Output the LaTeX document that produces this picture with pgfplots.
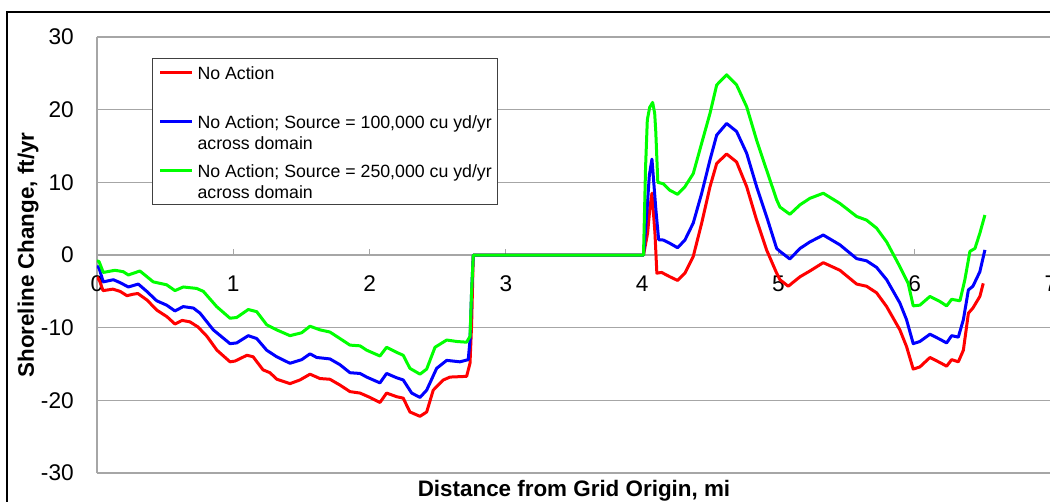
\documentclass[border=0pt]{standalone}
\usepackage{fontspec}
\setmainfont{Liberation Sans}
\usepackage{pgfplots}
\pgfplotsset{compat=1.18}
\definecolor{xred}{RGB}{255,0,0}
\definecolor{xblue}{RGB}{0,0,255}
\definecolor{xgreen}{RGB}{0,255,0}
\definecolor{gridgray}{RGB}{166,166,166}
\newcommand\lentry[2]{\vtop{\baselineskip=15.75pt\lineskiplimit=0pt\hbox{\rule{0pt}{11.25pt}#1}\hbox{#2}}}
\begin{document}
\begin{tikzpicture}
\useasboundingbox (0pt,0pt) rectangle (787.5pt,375.75pt);
\clip (0pt,0pt) rectangle (787.5pt,375.75pt);
\fill[white] (0pt,0pt) rectangle (787.5pt,375.75pt);
\draw[black, line width=0.8pt] (5.25pt,-10pt) rectangle (800pt,366.75pt);
\begin{axis}[
  at={(72.75pt,21pt)}, anchor=south west,
  scale only axis, width=715.5pt, height=327pt,
  xmin=0, xmax=7, ymin=-30, ymax=30,
  xtick={0,1,...,7}, ytick={-30,-20,...,30},
  axis x line=middle, axis y line=left,
  axis line style={-, draw=gridgray, line width=0.8pt},
  hide obscured x ticks=false, hide obscured y ticks=false,
  ymajorgrids, grid style={draw=gridgray, line width=0.8pt},
  ytick style={draw=none},
  xtick style={draw=gridgray, line width=0.8pt},
  xtick align=inside, major tick length=4.5pt,
  /pgf/number format/assume math mode=true,
  tick label style={font=\fontsize{17}{20}\selectfont},
  yticklabel style={anchor=east, inner sep=0pt, xshift=-15pt},
  xticklabel style={anchor=base, inner sep=0pt, yshift=-27.5pt},
  xlabel={Distance from Grid Origin, mi},
  ylabel={Shoreline Change, ft/yr},
  every axis x label/.style={at={(axis description cs:0.5,-0.0544)}, anchor=base,
    font=\bfseries\fontsize{16.8}{20}\selectfont},
  every axis y label/.style={at={(axis description cs:-0.0723,0.5)}, rotate=90, anchor=center,
    font=\bfseries\fontsize{16.8}{20}\selectfont},
  legend style={at={(axis description cs:0.0577,0.952)}, anchor=north west,
    draw=black!75, fill=white, line width=0.75pt,
    font=\fontsize{13.3}{15.75}\selectfont,
    inner xsep=4.5pt, inner ysep=4.5pt, row sep=9.75pt, column sep=3pt,
    nodes={inner sep=0pt, text depth=, text height=},
    cells={anchor=base west, inner sep=0pt}},
  legend image code/.code={\draw[#1] (0pt,5.25pt) -- (24pt,5.25pt);},
]
\addplot[color=xred, line width=2.25pt, line join=round, mark=none] coordinates {
(0,-3.0)(0.02,-3.6)(0.044,-4.9)(0.117,-4.7)(0.169,-5.0)(0.22,-5.6)(0.264,-5.4)(0.30,-5.3)(0.367,-6.2)(0.44,-7.6)(0.514,-8.5)(0.572,-9.5)(0.624,-9.0)(0.682,-9.2)(0.741,-9.9)(0.807,-11.2)(0.88,-13.1)(0.976,-14.7)(1.012,-14.6)(1.10,-13.8)(1.145,-14.0)(1.218,-15.8)(1.269,-16.2)(1.32,-17.1)(1.416,-17.7)(1.489,-17.2)(1.563,-16.4)(1.636,-17.0)(1.709,-17.1)(1.783,-17.9)(1.856,-18.8)(1.93,-19.0)(2.003,-19.6)(2.076,-20.3)(2.125,-19.0)(2.199,-19.5)(2.247,-19.7)(2.296,-21.6)(2.37,-22.2)(2.419,-21.6)(2.467,-18.6)(2.541,-17.2)(2.59,-16.8)(2.712,-16.7)(2.737,-14.9)(2.749,-9.4)(2.761,0)(4.01,0)(4.04,3)(4.057,6.5)(4.072,8.5)(4.094,3)(4.108,-2.5)(4.143,-2.4)(4.204,-3.0)(4.26,-3.5)(4.314,-2.5)(4.375,-0.2)(4.437,4.4)(4.498,9.4)(4.547,12.6)(4.62,13.9)(4.693,12.8)(4.767,9.4)(4.84,4.8)(4.913,0.7)(4.987,-2.5)(5.011,-3.4)(5.072,-4.3)(5.158,-3.0)(5.231,-2.2)(5.329,-1.05)(5.451,-2.1)(5.574,-4.0)(5.647,-4.3)(5.72,-5.2)(5.794,-7.1)(5.891,-10.3)(5.94,-12.6)(5.989,-15.7)(6.038,-15.4)(6.112,-14.1)(6.185,-14.8)(6.234,-15.3)(6.271,-14.4)(6.32,-14.7)(6.357,-13.1)(6.394,-8.0)(6.427,-7.3)(6.478,-5.7)(6.503,-3.9)
};
\addlegendentry{\lentry{No Action}{}}
\addplot[color=xblue, line width=2.25pt, line join=round, mark=none] coordinates {
(0,-1.5)(0.015,-1.8)(0.046,-3.7)(0.12,-3.4)(0.169,-3.8)(0.23,-4.4)(0.303,-4.0)(0.365,-5.0)(0.438,-6.3)(0.511,-6.9)(0.572,-7.7)(0.633,-7.1)(0.707,-7.3)(0.756,-8.0)(0.853,-10.3)(0.976,-12.2)(1.025,-12.1)(1.11,-11.1)(1.172,-11.5)(1.245,-13.1)(1.318,-14.0)(1.416,-14.9)(1.502,-14.4)(1.563,-13.6)(1.612,-14.1)(1.709,-14.3)(1.783,-15.1)(1.856,-16.2)(1.93,-16.3)(1.979,-16.8)(2.076,-17.6)(2.125,-16.3)(2.199,-16.9)(2.247,-17.2)(2.309,-19.0)(2.37,-19.6)(2.419,-18.6)(2.492,-15.6)(2.566,-14.5)(2.663,-14.7)(2.724,-14.4)(2.737,-11.7)(2.749,-4.8)(2.761,0)(4.01,0)(4.035,6)(4.053,11)(4.072,13.2)(4.101,6.2)(4.121,2.1)(4.155,2.06)(4.204,1.6)(4.26,1.0)(4.314,2.06)(4.375,4.4)(4.437,8.5)(4.498,13.1)(4.547,16.5)(4.62,18.1)(4.693,17.0)(4.767,14.0)(4.84,9.4)(4.913,5.3)(4.987,0.9)(5.011,0.5)(5.084,-0.55)(5.158,0.9)(5.231,1.8)(5.329,2.75)(5.451,1.4)(5.574,-0.5)(5.647,-0.8)(5.72,-1.7)(5.794,-3.4)(5.891,-6.6)(5.94,-8.9)(5.989,-12.2)(6.038,-11.9)(6.112,-10.9)(6.185,-11.6)(6.234,-12.1)(6.271,-11.1)(6.32,-11.3)(6.357,-8.9)(6.394,-4.8)(6.427,-4.3)(6.478,-2.3)(6.515,0.7)
};
\addlegendentry{\lentry{No Action; Source = 100,000 cu yd/yr}{across domain}}
\addplot[color=xgreen, line width=2.25pt, line join=round, mark=none] coordinates {
(0,-0.8)(0.015,-0.9)(0.046,-2.4)(0.132,-2.1)(0.193,-2.3)(0.23,-2.75)(0.315,-2.2)(0.413,-3.7)(0.511,-4.1)(0.572,-4.9)(0.633,-4.4)(0.731,-4.6)(0.78,-5.0)(0.878,-7.1)(0.976,-8.7)(1.025,-8.6)(1.11,-7.5)(1.172,-7.8)(1.245,-9.6)(1.318,-10.3)(1.416,-11.1)(1.502,-10.7)(1.563,-9.8)(1.636,-10.3)(1.709,-10.6)(1.783,-11.5)(1.856,-12.4)(1.93,-12.5)(1.979,-13.1)(2.076,-13.9)(2.125,-12.7)(2.199,-13.4)(2.247,-13.8)(2.296,-15.6)(2.37,-16.4)(2.419,-15.7)(2.48,-12.7)(2.566,-11.7)(2.639,-11.9)(2.712,-12.0)(2.737,-11.2)(2.749,-4.8)(2.761,0)(4.01,0)(4.025,12)(4.038,18.6)(4.055,20.3)(4.077,21)(4.092,19.5)(4.1,17)(4.115,10)(4.155,9.8)(4.204,8.9)(4.26,8.35)(4.314,9.4)(4.375,11.2)(4.437,15.4)(4.498,19.5)(4.547,23.4)(4.62,24.8)(4.693,23.4)(4.767,20.4)(4.84,15.8)(4.913,11.7)(4.987,7.6)(5.011,6.6)(5.084,5.6)(5.158,6.9)(5.231,7.8)(5.329,8.5)(5.451,7.1)(5.574,5.3)(5.647,4.8)(5.72,3.7)(5.794,1.8)(5.891,-1.6)(5.952,-3.9)(5.989,-7.0)(6.038,-6.9)(6.112,-5.7)(6.185,-6.4)(6.234,-7.0)(6.271,-6.1)(6.332,-6.3)(6.368,-3.4)(6.405,0.5)(6.442,0.9)(6.478,3.0)(6.515,5.5)
};
\addlegendentry{\lentry{No Action; Source = 250,000 cu yd/yr}{across domain}}
\end{axis}
\end{tikzpicture}
\end{document}
